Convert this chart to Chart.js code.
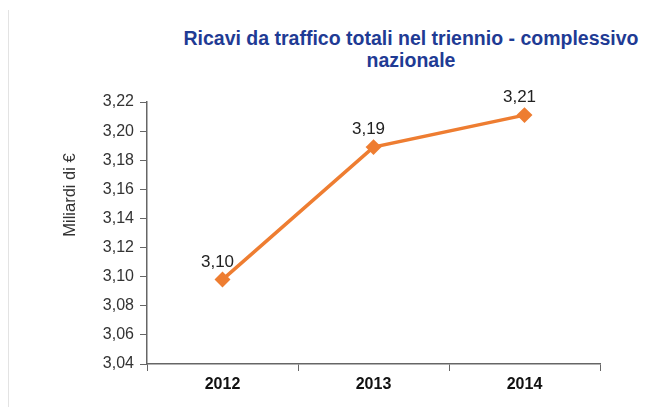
<!DOCTYPE html>
<html>
<head>
<meta charset="utf-8">
<script src="https://cdn.jsdelivr.net/npm/chart.js@4/dist/chart.umd.min.js"></script>
<style>
	html, body { margin: 0; padding: 0; background: #fff; }
	#wrap { position: relative; width: 655px; height: 407px; }
	#frame { position: absolute; left: 8px; top: 10px; bottom: 0; border-left: 1px solid #e3e3e3; }
	#title {
		position: absolute; left: 170px; width: 482px; top: 27px;
		text-align: center; font-family: 'Liberation Sans', Arial, sans-serif;
		font-weight: bold; font-size: 19.5px; line-height: 22px; color: #1f3b94;
	}
	canvas { position: absolute; left: 0; top: 0; }
</style>
</head>
<body>
<div id="wrap">
	<div id="frame"></div>
	<div id="title">Ricavi da traffico totali nel triennio - complessivo<br>nazionale</div>
	<canvas id="canvas" width="655" height="407"></canvas>
</div>
<script>
const ctx = document.getElementById('canvas').getContext('2d');

const years = ['2012', '2013', '2014'];
const ricavi = [3.098, 3.189, 3.211];
const yMin = 3.04;
const yMax = 3.22;
const yStep = 0.02;

const fmt = (v, d) => v.toFixed(d).replace('.', ',');

// value labels over the points
const valueLabels = {
	id: 'valueLabels',
	afterDatasetsDraw(chart) {
		const c = chart.ctx;
		const meta = chart.getDatasetMeta(0);
		c.save();
		c.font = '17px "Liberation Sans", Arial, sans-serif';
		c.fillStyle = '#222';
		c.textAlign = 'center';
		c.textBaseline = 'bottom';
		meta.data.forEach((pt, i) => {
			c.fillText(fmt(ricavi[i], 2), pt.x - 5, pt.y - 9);
		});
		c.restore();
	},
};

// y axis title, placed like the original (above the centre of the axis)
const yTitle = {
	id: 'yTitle',
	afterDraw(chart) {
		const c = chart.ctx;
		c.save();
		c.translate(70, 195);
		c.rotate(-Math.PI / 2);
		c.font = '16.5px "Liberation Sans", Arial, sans-serif';
		c.fillStyle = '#333';
		c.textAlign = 'center';
		c.textBaseline = 'middle';
		c.fillText('Miliardi di €', 0, 0);
		c.restore();
	},
};

const chart = new Chart(ctx, {
	type: 'line',
	data: {
		labels: years,
		datasets: [
			{
				data: ricavi,
				borderColor: '#ee7d31',
				backgroundColor: '#ee7d31',
				borderWidth: 3.5,
				pointStyle: 'rectRot',
				pointRadius: 5.5,
				pointHoverRadius: 5.5,
				fill: false,
				tension: 0,
			},
		],
	},
	options: {
		responsive: false,
		animation: false,
		layout: { padding: { top: 102, right: 55, left: 0, bottom: 0 } },
		plugins: {
			legend: { display: false },
			tooltip: { enabled: false },
			title: { display: false },
		},
		scales: {
			x: {
				offset: true,
				grid: {
					offset: true,
					drawOnChartArea: false,
					drawTicks: true,
					tickLength: 7,
					color: '#666',
				},
				border: { color: '#666', width: 1.5 },
				ticks: {
					color: '#111',
					font: { family: '"Liberation Sans", Arial, sans-serif', size: 16, weight: 'bold' },
					padding: 4,
				},
				afterFit(scale) { scale.height = 43; },
			},
			y: {
				min: yMin,
				max: yMax,
				grid: {
					drawOnChartArea: false,
					drawTicks: true,
					tickLength: 7,
					color: '#666',
				},
				border: { color: '#666', width: 1.5 },
				ticks: {
					stepSize: yStep,
					color: '#333',
					font: { family: '"Liberation Sans", Arial, sans-serif', size: 16 },
					padding: 6,
					callback: (v) => fmt(v, 2),
				},
				afterFit(scale) { scale.width = 147; },
			},
		},
	},
	plugins: [valueLabels, yTitle],
});
</script>
</body>
</html>
